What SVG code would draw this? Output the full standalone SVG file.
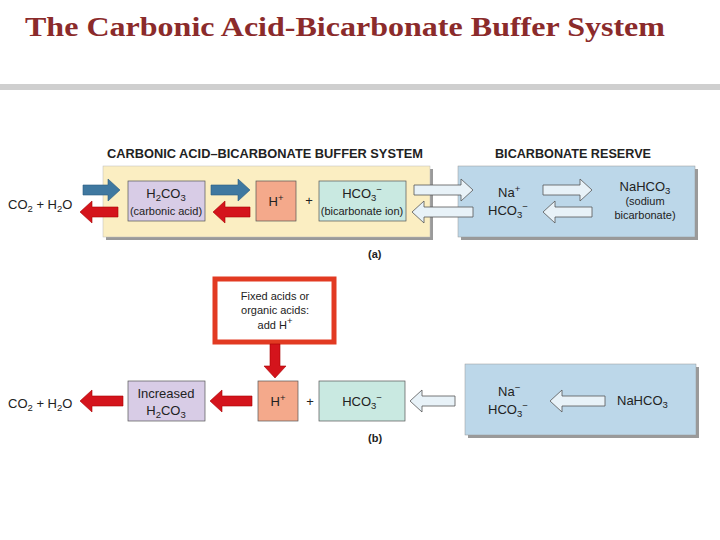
<svg xmlns="http://www.w3.org/2000/svg" width="720" height="540" viewBox="0 0 720 540">
<style>
text{font-family:"Liberation Sans",Arial,sans-serif;fill:#222;font-size:13px}
.h{font-weight:bold;font-size:12.5px}
.sm{font-size:11px}
.blue{fill:#3f78a0;stroke:#2a5a80;stroke-width:0.6}
.red{fill:#d4141c;stroke:#a00;stroke-width:0.6}
.lt{fill:#e8f2f8;stroke:#555;stroke-width:0.8}
.sh{fill:#9a9a9a}
</style>
<rect width="720" height="540" fill="#fff"/>
<text x="25" y="36" textLength="640" lengthAdjust="spacingAndGlyphs" style="font-family:'Liberation Serif',serif;font-size:28px;font-weight:bold;fill:#8b2b2b">The Carbonic Acid-Bicarbonate Buffer System</text>
<rect x="0" y="84" width="720" height="6" fill="#cfcfcf"/>

<g id="panel-a">
<text class="h" x="107" y="158" textLength="316" lengthAdjust="spacingAndGlyphs">CARBONIC ACID–BICARBONATE BUFFER SYSTEM</text>
<rect class="sh" x="106" y="169" width="327" height="71"/>
<rect x="103" y="166" width="327" height="71" fill="#fbeec2" stroke="#bbb" stroke-width="0.5"/>
<text class="h" x="495" y="158" textLength="156" lengthAdjust="spacingAndGlyphs">BICARBONATE RESERVE</text>
<rect class="sh" x="461" y="169" width="237" height="71"/>
<rect x="458" y="166" width="237" height="71" fill="#bcd7e9" stroke="#999" stroke-width="0.5"/>
<text x="368" y="258" class="sm" style="font-weight:bold">(a)</text>
</g>
<g id="co2-a"><text x="8" y="209">CO<tspan font-size="9.5" dy="3">2</tspan><tspan dy="-3"> + H</tspan><tspan font-size="9.5" dy="3">2</tspan><tspan dy="-3">O</tspan></text></g>
<g id="h2co3-a"><rect x="128" y="181" width="77" height="40" fill="#d8cce6" stroke="#555" stroke-width="0.7"/>
<text x="166" y="198" text-anchor="middle">H<tspan font-size="9.5" dy="3">2</tspan><tspan dy="-3">CO</tspan><tspan font-size="9.5" dy="3">3</tspan></text>
<text x="166" y="215" text-anchor="middle" class="sm">(carbonic acid)</text></g>
<g id="h-a"><rect x="256" y="181" width="40" height="40" fill="#f4a98b" stroke="#555" stroke-width="0.7"/>
<text x="276" y="206" text-anchor="middle">H<tspan font-size="9.5" dy="-5">+</tspan></text></g>
<text x="309" y="205" text-anchor="middle">+</text>
<g id="hco3-a"><rect x="319" y="181" width="87" height="40" fill="#c9e9e1" stroke="#555" stroke-width="0.7"/>
<text x="362" y="198" text-anchor="middle">HCO<tspan font-size="9.5" dy="3">3</tspan><tspan font-size="9.5" dy="-8">−</tspan></text>
<text x="362" y="215" text-anchor="middle" class="sm">(bicarbonate ion)</text></g>
<g id="res-a">
<text x="498" y="197">Na<tspan font-size="9.5" dy="-5">+</tspan></text>
<text x="488" y="215">HCO<tspan font-size="9.5" dy="3">3</tspan><tspan font-size="9.5" dy="-8">−</tspan></text>
<text x="645" y="191" text-anchor="middle">NaHCO<tspan font-size="9.5" dy="3">3</tspan></text>
<text x="645" y="205" text-anchor="middle" class="sm">(sodium</text>
<text x="645" y="219" text-anchor="middle" class="sm">bicarbonate)</text>
</g>

<g id="acid-b"><rect x="215" y="279" width="119" height="63" fill="#fff" stroke="#e23a22" stroke-width="5"/>
<text x="275" y="300" text-anchor="middle" class="sm">Fixed acids or</text>
<text x="275" y="314" text-anchor="middle" class="sm">organic acids:</text>
<text x="275" y="329" text-anchor="middle" class="sm">add H<tspan font-size="9.5" dy="-5">+</tspan></text></g>
<g id="co2-b"><text x="8" y="408">CO<tspan font-size="9.5" dy="3">2</tspan><tspan dy="-3"> + H</tspan><tspan font-size="9.5" dy="3">2</tspan><tspan dy="-3">O</tspan></text></g>
<g id="h2co3-b"><rect x="128" y="381" width="77" height="40" fill="#d8cce6" stroke="#555" stroke-width="0.7"/>
<text x="166" y="398" text-anchor="middle">Increased</text>
<text x="166" y="415" text-anchor="middle">H<tspan font-size="9.5" dy="3">2</tspan><tspan dy="-3">CO</tspan><tspan font-size="9.5" dy="3">3</tspan></text></g>
<g id="h-b"><rect x="258" y="381" width="40" height="40" fill="#f4a98b" stroke="#555" stroke-width="0.7"/>
<text x="278" y="406" text-anchor="middle">H<tspan font-size="9.5" dy="-5">+</tspan></text></g>
<text x="310" y="406" text-anchor="middle">+</text>
<g id="hco3-b"><rect x="319" y="381" width="86" height="40" fill="#c9e9e1" stroke="#555" stroke-width="0.7"/>
<text x="362" y="406" text-anchor="middle">HCO<tspan font-size="9.5" dy="3">3</tspan><tspan font-size="9.5" dy="-8">−</tspan></text></g>
<g id="res-b">
<rect class="sh" x="468" y="367" width="231" height="71"/>
<rect x="465" y="364" width="231" height="71" fill="#bcd7e9" stroke="#999" stroke-width="0.5"/>
<text x="498" y="396">Na<tspan font-size="9.5" dy="-5">−</tspan></text>
<text x="488" y="414">HCO<tspan font-size="9.5" dy="3">3</tspan><tspan font-size="9.5" dy="-8">−</tspan></text>
<text x="617" y="405">NaHCO<tspan font-size="9.5" dy="3">3</tspan></text>
</g>
<text x="368" y="442" class="sm" style="font-weight:bold">(b)</text>

<g id="connectors">
<path class="blue" d="M83 185H108V179L120 190L108 201V195H83Z"/>
<path class="blue" d="M211 185H238V179L250 190L238 201V195H211Z"/>
<path class="red" d="M118 207H92V201L80 212L92 223V217H118Z"/>
<path class="red" d="M250 207H225V201L213 212L225 223V217H250Z"/>
<path class="lt" d="M414 185H461V179L473 190L461 201V195H414Z"/>
<path class="lt" d="M473 207H424V201L412 212L424 223V217H473Z"/>
<path class="lt" d="M543 185H580V179L592 190L580 201V195H543Z"/>
<path class="lt" d="M592 207H555V201L543 212L555 223V217H592Z"/>
<path class="red" d="M270 344H280V366H286L275 378L264 366H270Z"/>
<path class="red" d="M252 396H222V390L210 401L222 412V406H252Z"/>
<path class="red" d="M123 396H92V390L80 401L92 412V406H123Z"/>
<path class="lt" d="M455 396H422V390L410 401L422 412V406H455Z"/>
<path class="lt" d="M605 396H562V390L550 401L562 412V406H605Z"/>
</g>
</svg>
